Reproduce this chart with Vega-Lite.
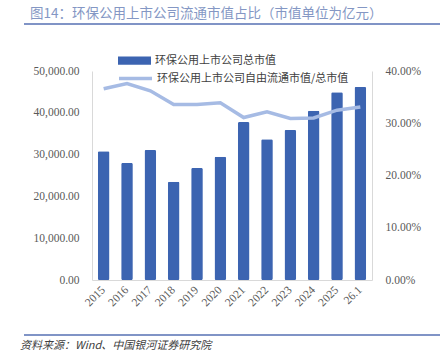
{
  "$schema": "https://vega.github.io/schema/vega-lite/v6.json",
  "background": "white",
  "padding": {"left": 20, "top": 6, "right": 0, "bottom": 0},
  "bounds": "flush",
  "center": true,
  "spacing": 46,
  "title": {
    "text": "图14：环保公用上市公司流通市值占比（市值单位为亿元）",
    "anchor": "start",
    "frame": "bounds",
    "dx": 10,
    "offset": 3,
    "font": "Noto Sans CJK SC",
    "fontSize": 13.5,
    "fontWeight": "normal",
    "color": "#8497c4"
  },
  "config": {
    "view": {"stroke": null},
    "axis": {
      "labelFont": "Liberation Serif",
      "labelFontSize": 11.5,
      "labelColor": "#595959",
      "domainColor": "#d9d9d9",
      "grid": false,
      "ticks": false
    },
    "legend": {
      "labelFont": "Noto Sans CJK SC",
      "labelFontSize": 11,
      "labelColor": "#404040",
      "labelLimit": 400,
      "padding": 0,
      "labelOffset": 3,
      "title": null
    }
  },
  "vconcat": [
    {
      "width": 416,
      "height": 2,
      "view": {"fill": "#8094c6", "stroke": null},
      "data": {"values": [{"start": 0, "end": 1, "line": 0.5}]},
      "mark": {"type": "rule", "color": "#8094c6", "strokeWidth": 2},
      "encoding": {
        "x": {"field": "start", "type": "quantitative", "scale": {"domain": [0, 1]}, "axis": null},
        "x2": {"field": "end"},
        "y": {"field": "line", "type": "quantitative", "scale": {"domain": [0, 1]}, "axis": null}
      }
    },
    {
      "width": 280,
      "height": 209,
      "data": {
        "values": [
          {"year": "2015", "total": 30800, "ratio": 0.366},
          {"year": "2016", "total": 28000, "ratio": 0.376},
          {"year": "2017", "total": 31100, "ratio": 0.362},
          {"year": "2018", "total": 23500, "ratio": 0.336},
          {"year": "2019", "total": 26800, "ratio": 0.336},
          {"year": "2020", "total": 29500, "ratio": 0.339},
          {"year": "2021", "total": 37800, "ratio": 0.311},
          {"year": "2022", "total": 33700, "ratio": 0.322},
          {"year": "2023", "total": 35900, "ratio": 0.309},
          {"year": "2024", "total": 40500, "ratio": 0.310},
          {"year": "2025", "total": 44900, "ratio": 0.325},
          {"year": "26.1", "total": 46200, "ratio": 0.331}
        ]
      },
      "encoding": {
        "x": {
          "field": "year",
          "type": "nominal",
          "sort": null,
          "scale": {"paddingInner": 0.5, "paddingOuter": 0.25},
          "axis": {
            "title": null,
            "labelAngle": -45,
            "labelAlign": "right",
            "labelBaseline": "middle",
            "labelPadding": 8
          }
        }
      },
      "layer": [
        {
          "mark": {"type": "bar", "cornerRadius": 1.5},
          "encoding": {
            "y": {
              "field": "total",
              "type": "quantitative",
              "scale": {"domain": [0, 50000]},
              "axis": {
                "title": null,
                "values": [0, 10000, 20000, 30000, 40000, 50000],
                "format": ",.2f",
                "labelPadding": 13
              }
            },
            "fill": {
              "datum": "环保公用上市公司总市值",
              "scale": {"range": ["#3c64b1"]},
              "legend": {
                "orient": "none",
                "legendX": 25,
                "legendY": -28,
                "symbolType": "M-1,-0.25H1V0.25H-1Z",
                "symbolSize": 1089
              }
            }
          }
        },
        {
          "mark": {"type": "line", "strokeWidth": 3.5},
          "encoding": {
            "y": {
              "field": "ratio",
              "type": "quantitative",
              "scale": {"domain": [0, 0.4]},
              "axis": {
                "title": null,
                "orient": "right",
                "values": [0, 0.1, 0.2, 0.3, 0.4],
                "format": ".2%",
                "labelPadding": 13
              }
            },
            "stroke": {
              "datum": "环保公用上市公司自由流通市值/总市值",
              "scale": {"range": ["#a6bbe4"]},
              "legend": {
                "orient": "none",
                "legendX": 25,
                "legendY": -11,
                "symbolType": "stroke",
                "symbolSize": 1089,
                "symbolStrokeWidth": 3.5
              }
            }
          }
        }
      ],
      "resolve": {"scale": {"y": "independent", "fill": "independent", "stroke": "independent"}}
    },
    {
      "width": 416,
      "height": 9,
      "title": {
        "text": "资料来源：Wind、中国银河证券研究院",
        "orient": "bottom",
        "anchor": "start",
        "frame": "group",
        "dx": -4,
        "offset": 4,
        "font": "Noto Sans CJK SC",
        "fontSize": 11,
        "fontWeight": "normal",
        "fontStyle": "italic",
        "color": "#404040"
      },
      "data": {"values": [{"start": 0, "end": 1, "line": 0}]},
      "mark": {"type": "rule", "color": "#8094c6", "strokeWidth": 2},
      "encoding": {
        "x": {"field": "start", "type": "quantitative", "scale": {"domain": [0, 1]}, "axis": null},
        "x2": {"field": "end"},
        "y": {"field": "line", "type": "quantitative", "scale": {"domain": [0, 1]}, "axis": null}
      }
    }
  ]
}
